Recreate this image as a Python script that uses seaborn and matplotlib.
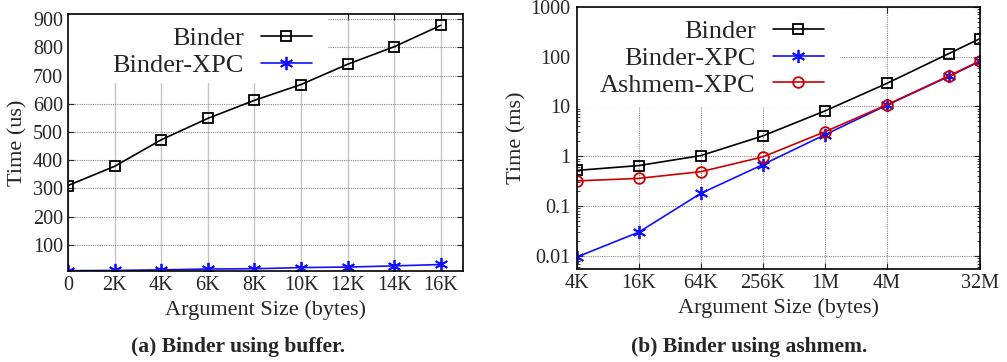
import matplotlib
matplotlib.use("Agg")
import matplotlib.pyplot as plt
import matplotlib.ticker as mticker
from matplotlib.patches import Rectangle
import seaborn as sns

# %% DATA

# (a) buffer: argument size in KB, time in us
buf_size_k = [0, 2, 4, 6, 8, 10, 12, 14, 16]
buf_binder = [310, 378, 472, 548, 612, 668, 740, 802, 878]
buf_binder_xpc = [8, 9, 11, 14, 15, 19, 21, 25, 30]
buf_xticklabels = ['0', '2K', '4K', '6K', '8K', '10K', '12K', '14K', '16K']

# (b) ashmem: argument size in bytes, time in ms
ash_size = [4096, 16384, 65536, 262144, 1048576, 4194304, 16777216, 33554432]
ash_binder = [0.52, 0.65, 1.03, 2.56, 8.1, 29, 115, 229]
ash_binder_xpc = [0.0095, 0.030, 0.18, 0.68, 2.7, 10.6, 40, 80]
ash_ashmem_xpc = [0.32, 0.36, 0.49, 0.97, 3.1, 10.8, 41, 82]
ash_xticks = [4096, 16384, 65536, 262144, 1048576, 4194304, 33554432]
ash_xticklabels = ['4K', '16K', '64K', '256K', '1M', '4M', '32M']

# %% STYLE

sns.set_style('ticks')
plt.rcParams['font.family'] = ['Liberation Serif', 'DejaVu Serif']
plt.rcParams.update({
    'xtick.direction': 'in', 'ytick.direction': 'in',
    'xtick.top': True, 'ytick.right': True,
    'xtick.major.size': 4.5, 'ytick.major.size': 4.5,
    'xtick.minor.size': 2.5, 'ytick.minor.size': 2.5,
    'xtick.major.pad': 3.5, 'ytick.major.pad': 3.5,
    'axes.linewidth': 1.2,
    'axes.edgecolor': 'black',
})

BLUE = '#1010ff'
RED = '#cc0000'
line_kw = dict(linewidth=1.2, markeredgewidth=1.3, markerfacecolor='none')
star = (6, 2, 0)

fig = plt.figure(figsize=(10.07, 3.62), dpi=100)
ax1 = fig.add_axes([0.0675, 0.2522, 0.3923, 0.7091])
ax2 = fig.add_axes([0.5727, 0.2561, 0.4005, 0.7254])

# %% (a) BINDER USING BUFFER

ax1.set_axisbelow(True)
ax1.grid(axis='x', color='#c4c4c4', linestyle='-', linewidth=1.0)
ax1.grid(axis='y', color='#8a8a8a', linestyle=(0, (1, 1)), linewidth=0.8)
# white key box hides the grid behind the legend
ax1.add_patch(Rectangle((0, 1 - 69 / 256.7), 260 / 395, 69 / 256.7,
                        transform=ax1.transAxes, facecolor='white',
                        edgecolor='none', zorder=1))

sns.lineplot(x=buf_size_k, y=buf_binder, ax=ax1, color='black', marker='s',
             markersize=6.8, markeredgecolor='black', label='Binder', **line_kw)
sns.lineplot(x=buf_size_k, y=buf_binder_xpc, ax=ax1, color=BLUE, marker=star,
             markersize=9.5, markeredgecolor=BLUE, label='Binder-XPC', **line_kw)

ax1.set_xlim(0, 16.95)
ax1.set_ylim(8, 918)
ax1.set_xticks(buf_size_k)
ax1.set_xticklabels(buf_xticklabels)
ax1.set_yticks(range(100, 1000, 100))
ax1.tick_params(labelsize=14.5)
ax1.set_xlabel('Argument Size (bytes)', fontsize=16, labelpad=4)
ax1.set_ylabel('Time (us)', fontsize=16, labelpad=4)

ax1.legend(loc='upper right', bbox_to_anchor=(260 / 395, 1.012),
           markerfirst=False, frameon=False, fontsize=19,
           handlelength=1.95, handletextpad=0.65, labelspacing=0.12,
           borderpad=0.3, borderaxespad=0.3)

# %% (b) BINDER USING ASHMEM

ax2.set_xscale('log', base=2)
ax2.set_yscale('log')
ax2.set_axisbelow(True)
ax2.grid(which='major', color='#8a8a8a', linestyle=(0, (1, 1)), linewidth=0.8)
ax2.add_patch(Rectangle((0, 1 - 100.3 / 262.6), 263.3 / 403.3, 100.3 / 262.6,
                        transform=ax2.transAxes, facecolor='white',
                        edgecolor='none', zorder=1))

sns.lineplot(x=ash_size, y=ash_binder, ax=ax2, color='black', marker='s',
             markersize=6.8, markeredgecolor='black', label='Binder', **line_kw)
sns.lineplot(x=ash_size, y=ash_binder_xpc, ax=ax2, color=BLUE, marker=star,
             markersize=9.5, markeredgecolor=BLUE, label='Binder-XPC', **line_kw)
sns.lineplot(x=ash_size, y=ash_ashmem_xpc, ax=ax2, color=RED, marker='o',
             markersize=7.7, markeredgecolor=RED, label='Ashmem-XPC', **line_kw)

ax2.set_xlim(4096, 33554432)
ax2.set_ylim(0.0054, 1000)
ax2.set_xticks(ash_xticks)
ax2.set_xticklabels(ash_xticklabels)
ax2.xaxis.set_minor_locator(mticker.NullLocator())
ax2.set_yticks([0.01, 0.1, 1, 10, 100, 1000])
ax2.set_yticklabels(['0.01', '0.1', '1', '10', '100', '1000'])
ax2.yaxis.set_minor_locator(mticker.LogLocator(base=10, subs=range(2, 10)))
ax2.yaxis.set_minor_formatter(mticker.NullFormatter())
ax2.tick_params(labelsize=14.5)
ax2.tick_params(axis='y', which='major', pad=4.5)
ax2.set_xlabel('Argument Size (bytes)', fontsize=16, labelpad=4)
ax2.set_ylabel('Time (ms)', fontsize=16, labelpad=3)

ax2.legend(loc='upper right', bbox_to_anchor=(263.3 / 403.3, 1.01),
           markerfirst=False, frameon=False, fontsize=19,
           handlelength=1.95, handletextpad=0.65, labelspacing=0.12,
           borderpad=0.3, borderaxespad=0.3)

# %% CAPTIONS

fig.text(238 / 1007, 1 - 347 / 362, '(a) Binder using buffer.',
         fontsize=15.5, fontweight='bold', ha='center', va='center')
fig.text(749 / 1007, 1 - 347 / 362, '(b) Binder using ashmem.',
         fontsize=15.5, fontweight='bold', ha='center', va='center')

fig.savefig('out.png', dpi=100)
